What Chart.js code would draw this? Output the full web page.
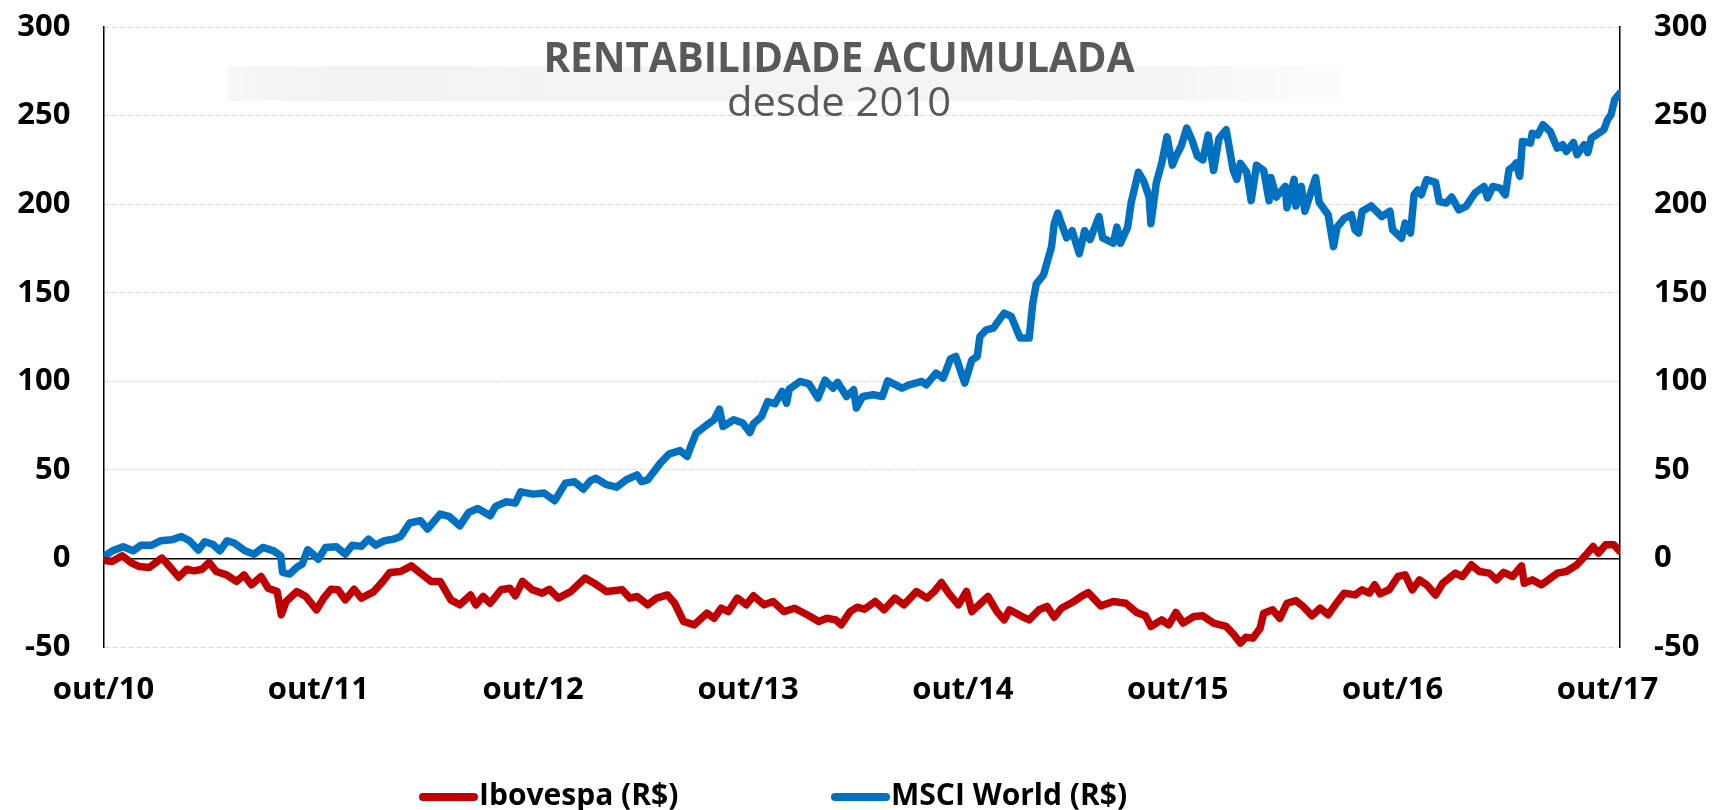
<!DOCTYPE html>
<html>
<head>
<meta charset="utf-8">
<script src="https://cdn.jsdelivr.net/npm/chart.js@4.4.0/dist/chart.umd.min.js"></script>
<style>
html,body{margin:0;padding:0;background:#fff;}
#wrap{width:1714px;height:810px;position:relative;}
</style>
</head>
<body>
<div id="wrap"><canvas id="c" width="1714" height="810"></canvas></div>
<script>
// ---- DATA (months since out/2010, cumulative return %) ----
const chartTitle = 'RENTABILIDADE ACUMULADA';
const chartSubtitle = 'desde 2010';
const seriesNames = ['Ibovespa (R$)', 'MSCI World (R$)'];
const xTickMonths = [0, 12, 24, 36, 48, 60, 72, 84];
const xTickLabels = ['out/10', 'out/11', 'out/12', 'out/13', 'out/14', 'out/15', 'out/16', 'out/17'];
const yTickValues = [-50, 0, 50, 100, 150, 200, 250, 300];

const ibovMonths = [0,0.48,1.04,1.59,2.0,2.56,3.26,3.7,4.2,4.65,5.07,5.5,5.9,6.3,6.87,7.43,7.85,8.26,8.8,9.2,9.7,9.93,10.2,10.8,11.3,11.9,12.3,12.7,13.1,13.5,14.0,14.4,15.1,15.6,16.0,16.6,17.2,17.7,18.3,18.8,19.4,19.9,20.5,20.8,21.2,21.6,22.2,22.7,23.0,23.4,23.96,24.5,24.9,25.4,26.1,26.9,27.4,28.1,28.97,29.4,29.8,30.4,30.9,31.5,31.9,32.4,33.0,33.7,34.1,34.5,34.9,35.4,35.9,36.3,36.9,37.4,38.0,38.6,39.3,39.95,40.4,40.9,41.2,41.7,42.1,42.5,43.1,43.6,44.2,44.7,45.4,46.0,46.4,46.8,47.2,47.75,48.2,48.5,49.1,49.4,49.9,50.3,50.6,51.3,51.7,52.25,52.7,53.1,53.5,54.1,54.6,55.0,55.7,56.4,57.1,57.7,58.2,58.5,59.1,59.5,59.9,60.3,60.9,61.4,62.0,62.7,63.1,63.5,63.8,64.2,64.6,64.8,65.3,65.7,66.1,66.6,67.0,67.5,67.95,68.4,68.8,69.3,69.9,70.3,70.7,71.0,71.3,71.8,72.3,72.7,73.1,73.5,73.9,74.4,74.8,75.5,75.9,76.4,76.85,77.4,77.8,78.2,78.7,79.2,79.35,79.8,80.3,80.7,81.2,81.7,82.3,82.8,83.2,83.5,83.9,84.35,84.7];
const ibovValues = [-1,-1.7,1.5,-2.7,-4.6,-5.1,0.2,-4.6,-10.6,-6.1,-7,-6.1,-2.3,-7.4,-9.3,-13,-9.3,-14.9,-10.2,-16.8,-18.7,-31.8,-24.3,-18.7,-21.5,-29,-22.4,-17.4,-17.7,-23.4,-17.4,-22.4,-18.7,-13,-7.9,-7.4,-4.2,-8.3,-13,-13,-23.4,-26.2,-20.6,-26.2,-21.5,-25.3,-17.7,-16.8,-21.1,-13,-17.7,-19.6,-17.4,-22.4,-18.7,-11.1,-14,-18.7,-17.7,-22.4,-21.5,-26.2,-22.4,-20.6,-25.3,-35.6,-37.5,-30.9,-33.8,-28.1,-30,-22.4,-26.2,-21.1,-26.2,-24.3,-30,-28.1,-31.8,-35.6,-33.8,-34.7,-37.5,-30,-27.5,-28.7,-24.3,-29,-22.4,-26.2,-18.7,-22.4,-18.7,-13.6,-19.6,-26.2,-18.7,-30,-24.3,-21.5,-30,-34.7,-29,-32.8,-34.7,-29,-27.1,-33.2,-28.1,-24.9,-21.5,-19.3,-26.8,-24.3,-25.3,-30.5,-32.4,-38.4,-34.7,-37.5,-30.5,-36.5,-32.8,-32.4,-36.5,-38.4,-42.6,-47.8,-44.5,-45,-39.4,-30.9,-29,-33.8,-25.3,-23.8,-27.1,-32.4,-28.1,-31.8,-26.2,-19.6,-20.6,-17.7,-19.6,-14.9,-20,-17.7,-10.2,-9.3,-17.7,-12.1,-14.9,-20.6,-14,-8.3,-10.2,-3.6,-7.4,-8.3,-12.1,-7.9,-10.2,-4.2,-14,-12.1,-14.9,-12.1,-8.3,-7.4,-3.6,2,6.7,3,7.7,7.7,3.9];

const msciMonths = [0,0.5,1.1,1.65,2.1,2.7,3.2,3.8,4.35,4.8,5.3,5.65,6.1,6.5,6.9,7.3,7.9,8.4,8.9,9.5,9.9,10.0,10.4,10.8,11.1,11.4,11.7,12.0,12.4,13.0,13.5,13.9,14.4,14.8,15.2,15.7,16.2,16.6,17.1,17.7,18.1,18.8,19.3,19.9,20.4,20.9,21.6,21.9,22.5,23.0,23.3,24.0,24.6,25.2,25.8,26.3,26.8,27.2,27.5,28.1,28.65,29.2,29.8,30.05,30.4,31.1,31.6,32.2,32.6,32.8,33.1,33.7,34.1,34.4,34.6,35.2,35.7,36.1,36.3,36.75,37.1,37.5,37.9,38.15,38.3,38.9,39.4,39.9,40.3,40.75,41.0,41.5,41.9,42.05,42.4,43.0,43.5,43.8,44.6,45.0,45.7,45.95,46.5,46.9,47.3,47.6,48.1,48.5,48.8,48.95,49.3,49.7,50.3,50.7,51.2,51.7,51.9,52.1,52.5,52.95,53.1,53.3,53.5,53.8,54.1,54.5,54.8,55.1,55.6,55.8,56.4,56.6,56.8,57.2,57.4,57.8,58.1,58.4,58.5,58.8,59.1,59.4,59.7,59.9,60.2,60.5,60.8,61.1,61.4,61.7,62.0,62.3,62.7,63.1,63.3,63.5,63.85,64.1,64.4,64.8,65.1,65.2,65.5,66.0,66.1,66.5,66.6,66.9,67.1,67.7,67.9,68.4,68.7,68.9,69.3,69.7,69.9,70.1,70.3,70.8,71.1,71.4,71.85,72.0,72.5,72.7,73.0,73.2,73.4,73.6,73.9,74.4,74.6,75.0,75.3,75.7,76.1,76.6,77.1,77.3,77.6,78.0,78.3,78.5,78.75,78.9,79.1,79.25,79.7,79.8,80.1,80.4,80.8,81.2,81.5,81.7,82.1,82.3,82.7,82.9,83.1,83.5,83.8,84.0,84.2,84.4,84.7];
const msciValues = [1,4.3,6.6,4.3,7.5,7.5,10,10.5,12.4,10,4.7,9.4,8,4.3,10,8.7,4.3,2.4,6.2,4.3,1.5,-7.9,-8.8,-5,-3.2,4.9,2.4,-0.4,6.2,6.6,2.4,7.5,6.8,10.9,7.5,10,10.9,12.4,20,21.3,16.6,25,23.7,18.4,26,28.2,24.1,29.4,32,31.2,37.6,36.3,36.9,32.6,42.5,43.3,39.1,43.9,45.3,41.6,40.2,44.4,47.2,43.4,44.4,53.8,59,60.9,57.6,63.2,70.7,75.4,78.3,84.3,74.5,78.3,76.4,71.1,76,80.1,88.6,87.3,94.2,87.6,95.6,99.9,98.6,90.5,100.6,96.1,99.4,91.4,95.2,84.9,91.4,92.4,91.4,100.2,96.1,98,99.9,98,104.6,101.8,112.5,114,99,112.1,114,125.3,129,130,138.5,136.6,124.4,124.4,144,155,160,176,189,195,189,181,185,172,185,180,193,181,178,187,178,187,201,218,213,204,189,212,223,238,222,227,233,243,236,227,225,239,219,237,242,219,214,223,218,202,222,219,202,215,204,210,198,214,199,210,196,215,201,194,176,187,192,194,185.5,183.7,196,199,196,193,196,185.5,180.8,189.3,183.7,205.3,208,205.3,213.8,212.3,201.5,200.6,204,196.8,198.7,206.3,210,203.5,210,209,205.3,219.4,221.3,223.2,215.7,235.4,234.5,240,239,244.8,241,231.6,233.5,229.7,234.8,227.9,233.5,229.1,237.3,240,242,247.6,250.5,259,262.7];

const seriesColors = ['#C00000', '#0070C0'];

// ---- CHART ----
const FONT = '"Open Sans", "Liberation Sans", sans-serif';
const toPoints = (xs, ys) => xs.map((m, i) => ({ x: m, y: ys[i] }));

const decorPlugin = {
  id: 'decor',
  beforeDraw(chart) {
    const ctx = chart.ctx;
    ctx.save();
    const g = ctx.createLinearGradient(227, 0, 1342, 0);
    g.addColorStop(0, 'rgba(242,242,242,0.6)');
    g.addColorStop(0.1, 'rgba(242,242,242,1)');
    g.addColorStop(0.85, 'rgba(245,245,245,1)');
    g.addColorStop(1, 'rgba(250,250,250,0.4)');
    ctx.fillStyle = g;
    ctx.fillRect(227, 66, 1115, 35);
    ctx.restore();
  },
  afterDraw(chart) {
    const ctx = chart.ctx;
    const drawFitted = (text, font, cx, baseline, targetW, color) => {
      ctx.save();
      ctx.font = font;
      ctx.fillStyle = color;
      ctx.textAlign = 'center';
      ctx.textBaseline = 'alphabetic';
      const w = ctx.measureText(text).width;
      ctx.translate(cx, baseline);
      ctx.scale(targetW / w, 1);
      ctx.fillText(text, 0, 0);
      ctx.restore();
    };
    drawFitted(chartTitle, '700 42px ' + FONT, 839, 72, 591, '#595959');
    drawFitted(chartSubtitle, '400 40px ' + FONT, 839, 116, 224, '#595959');

    // legend
    ctx.save();
    ctx.font = '700 30px ' + FONT;
    ctx.textBaseline = 'middle';
    ctx.textAlign = 'left';
    const starts = [419, 831];
    const lineLen = 59, cy = 796;
    chart.data.datasets.forEach((ds, i) => {
      const x = starts[i];
      ctx.strokeStyle = ds.borderColor;
      ctx.lineWidth = 8;
      ctx.lineCap = 'round';
      ctx.beginPath();
      ctx.moveTo(x + 4, cy + 1);
      ctx.lineTo(x + lineLen - 4, cy + 1);
      ctx.stroke();
      ctx.fillStyle = '#000';
      ctx.fillText(ds.label, x + lineLen + 1, cy);
    });
    ctx.restore();
  }
};

const tickFont = { family: FONT, size: 31, weight: '700' };
const gridColor = c => (c.tick && c.tick.value === 0) ? '#000000' : '#d9d9d9';
const gridWidth = c => (c.tick && c.tick.value === 0) ? 1.5 : 1;
const gridDash = c => (c.type === 'tick' && c.tick && c.tick.value !== 0) ? [5, 3] : [];
const noPadY = s => { s.paddingTop = 0; s.paddingBottom = 0; };

new Chart(document.getElementById('c'), {
  type: 'line',
  data: {
    datasets: [
      { label: seriesNames[0], data: toPoints(ibovMonths, ibovValues), borderColor: seriesColors[0], backgroundColor: seriesColors[0], yAxisID: 'y' },
      { label: seriesNames[1], data: toPoints(msciMonths, msciValues), borderColor: seriesColors[1], backgroundColor: seriesColors[1], yAxisID: 'y' }
    ]
  },
  options: {
    responsive: false,
    animation: false,
    devicePixelRatio: 1,
    layout: { padding: { top: 27, left: 0, right: 0, bottom: 0 } },
    elements: {
      line: { borderWidth: 7.5, tension: 0, borderJoinStyle: 'round', borderCapStyle: 'round' },
      point: { radius: 0, hoverRadius: 0 }
    },
    plugins: { legend: { display: false }, title: { display: false }, tooltip: { enabled: false } },
    scales: {
      x: {
        type: 'linear', min: 0, max: 84.7,
        grid: { display: false, drawTicks: false },
        border: { display: false },
        afterBuildTicks: s => { s.ticks = xTickMonths.map(v => ({ value: v })); },
        ticks: {
          autoSkip: false, maxRotation: 0, padding: 25, color: '#000', font: tickFont,
          callback: v => xTickLabels[xTickMonths.indexOf(v)]
        },
        afterFit: s => { s.height = 163; s.paddingLeft = 0; s.paddingRight = 0; }
      },
      y: {
        position: 'left', min: -50, max: 300,
        afterBuildTicks: s => { s.ticks = yTickValues.map(v => ({ value: v })); },
        ticks: { padding: 33, color: '#000', font: tickFont },
        grid: { color: gridColor, lineWidth: gridWidth, drawTicks: false },
        border: { display: true, color: '#000', width: 1.5, dash: gridDash },
        afterFit: s => { s.width = 103.5; noPadY(s); }
      },
      y2: {
        position: 'right', min: -50, max: 300,
        afterBuildTicks: s => { s.ticks = yTickValues.map(v => ({ value: v })); },
        ticks: { padding: 34, color: '#000', font: tickFont },
        grid: { drawOnChartArea: false, drawTicks: false },
        border: { display: true, color: '#000', width: 1.5 },
        afterFit: s => { s.width = 94; noPadY(s); }
      }
    }
  },
  plugins: [decorPlugin]
});
</script>
</body>
</html>
